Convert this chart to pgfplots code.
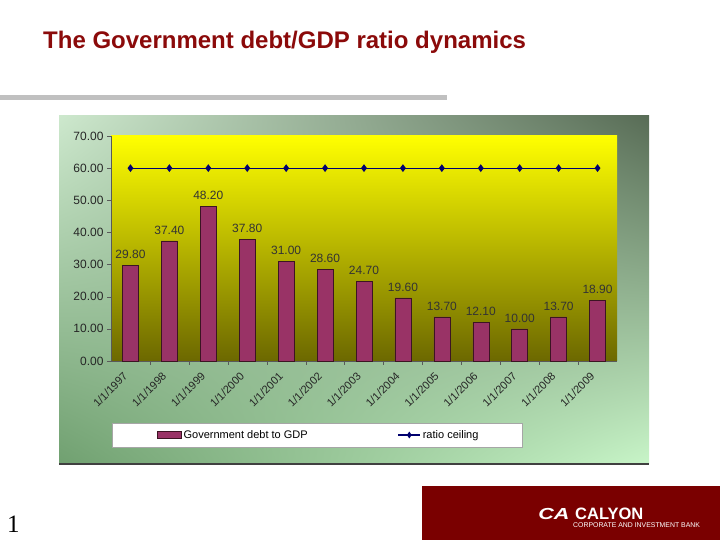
\documentclass[border=0pt]{standalone}
\usepackage{pgfplots}
\pgfplotsset{compat=1.18}
\usetikzlibrary{shadings}
\usepackage{fontspec}
\setmainfont{Liberation Sans}
\newfontfamily\serifnum{Liberation Serif}
\definecolor{titlered}{RGB}{139,10,10}
\definecolor{slidegrey}{RGB}{192,192,192}
\definecolor{plum}{RGB}{153,51,102}
\definecolor{barEdge}{RGB}{60,20,35}
\definecolor{navyline}{RGB}{0,0,110}
\definecolor{boxred}{RGB}{122,0,0}
\definecolor{olivebot}{RGB}{108,104,0}
\definecolor{olivemid}{RGB}{236,234,0}
\definecolor{bgUL}{RGB}{205,232,205}
\definecolor{bgUR}{RGB}{88,108,86}
\definecolor{bgLL}{RGB}{112,160,112}
\definecolor{bgLR}{RGB}{200,245,200}
\begin{document}
\begin{tikzpicture}
\useasboundingbox (0pt,0pt) rectangle (720pt,540pt);
\fill[white] (0pt,0pt) rectangle (720pt,540pt);
\begin{scope}[x=1pt,y=1pt]
\node[anchor=base west, inner sep=0pt, text=titlered, font=\fontsize{24}{28}\selectfont\bfseries] at (43,491) {The Government debt/GDP ratio dynamics};
\fill[slidegrey] (0,440) rectangle (447,445);
\shade[upper left=bgUL, upper right=bgUR, lower left=bgLL, lower right=bgLR] (59,76) rectangle (649,424);
\draw[black!75, line width=1.5pt] (59,76) -- (649,76);
\draw[draw=gray!70, fill=white] (112,93) rectangle (522,117);
\end{scope}
\begin{axis}[
  at={(111pt,179pt)}, anchor=south west,
  scale only axis, width=506pt, height=225pt,
  ymin=0, ymax=70, ytick={0,10,...,70},
  xmin=-0.5, xmax=12.5, xtick={0,...,12},
  xticklabels={1/1/1997,1/1/1998,1/1/1999,1/1/2000,1/1/2001,1/1/2002,1/1/2003,1/1/2004,1/1/2005,1/1/2006,1/1/2007,1/1/2008,1/1/2009},
  minor x tick num=1,
  major x tick style={draw=none},
  tick align=outside,
  major tick length=4pt, minor tick length=4pt,
  axis x line*=bottom, axis y line*=left,
  axis line style={-, draw=black!65},
  tick style={black!65},
  /pgf/number format/assume math mode=true,
  yticklabel style={/pgf/number format/.cd, fixed, fixed zerofill, precision=2, /tikz/.cd, font=\fontsize{12}{12}\selectfont, text=black!85},
  xticklabel style={xshift=-8pt, yshift=-5pt, rotate=45, anchor=north east, font=\fontsize{11}{11}\selectfont, inner sep=1pt, text=black!85},
  axis background/.style={top color=yellow, middle color=olivemid, bottom color=olivebot},
  legend style={at={(0.085,-0.329)}, anchor=west, draw=none, fill=none, legend columns=2,
    font=\fontsize{11}{13}\selectfont,
    /tikz/every even column/.append style={column sep=88pt}},
  clip=false,
]
\addplot[ybar, bar width=16pt, fill=plum, draw=barEdge,
  nodes near coords={\pgfmathprintnumber[fixed,fixed zerofill,precision=2,assume math mode=true]{\pgfplotspointmeta}},
  every node near coord/.append style={font=\fontsize{12}{12}\selectfont, text=black!80, yshift=3pt},
  legend image code/.code={\draw[fill=plum, draw=barEdge] (0pt,-3.5pt) rectangle (24pt,3.5pt);}]
coordinates {(0,29.8) (1,37.4) (2,48.2) (3,37.8) (4,31.0) (5,28.6) (6,24.7) (7,19.6) (8,13.7) (9,12.1) (10,10.0) (11,13.7) (12,18.9)};
\addlegendentry{Government debt to GDP}
\addplot[color=navyline, line width=1.1pt, mark=diamond*, mark size=3pt, mark options={fill=navyline, draw=navyline},
  legend image code/.code={\draw[navyline, line width=1.1pt] (0pt,0pt) -- (22pt,0pt);
    \fill[navyline] (11pt,2.5pt) -- (12.7pt,0pt) -- (11pt,-2.5pt) -- (9.3pt,0pt) -- cycle;}]
coordinates {(0,60) (1,60) (2,60) (3,60) (4,60) (5,60) (6,60) (7,60) (8,60) (9,60) (10,60) (11,60) (12,60)};
\addlegendentry{ratio ceiling}
\end{axis}
\begin{scope}[x=1pt,y=1pt]
\fill[boxred] (422,0) rectangle (720,54);
\node[anchor=base west, inner sep=0pt, font=\serifnum\fontsize{25}{25}\selectfont] at (7,7) {1};
\node[anchor=base west, inner sep=0pt, text=white, xscale=1.35, font=\fontsize{16}{16}\selectfont\bfseries\itshape] at (538,20) {CA};
\node[anchor=base west, inner sep=0pt, text=white, font=\fontsize{16.5}{17}\selectfont\bfseries] at (575,20) {CALYON};
\node[anchor=base west, inner sep=0pt, text=white, font=\fontsize{6.9}{7}\selectfont] at (573,12) {CORPORATE AND INVESTMENT BANK};
\end{scope}
\end{tikzpicture}
\end{document}
